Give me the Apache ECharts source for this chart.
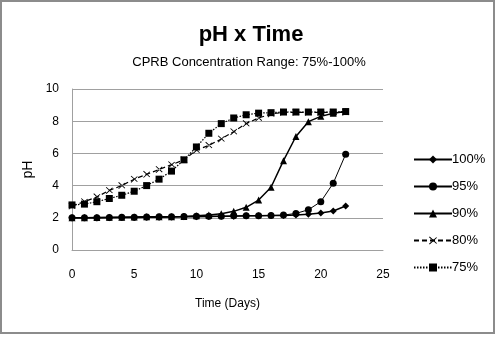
<!DOCTYPE html>
<html>
<head>
<meta charset="utf-8">
<script src="https://cdn.jsdelivr.net/npm/echarts@6/dist/echarts.min.js"></script>
<style>
html, body { margin: 0; padding: 0; background: #fff; }
#chart { width: 500px; height: 339px; }
</style>
</head>
<body>
<div id="chart"></div>
<script>
// days 0..22
var days = [0, 1, 2, 3, 4, 5, 6, 7, 8, 9, 10, 11, 12, 13, 14, 15, 16, 17, 18, 19, 20, 21, 22];
var ph100 = [2.0, 2.0, 2.0, 2.0, 2.02, 2.02, 2.03, 2.04, 2.05, 2.06, 2.07, 2.08, 2.1, 2.1, 2.12, 2.13, 2.14, 2.15, 2.18, 2.22, 2.3, 2.42, 2.73];
var ph95 = [2.0, 2.0, 2.0, 2.02, 2.03, 2.04, 2.05, 2.06, 2.07, 2.08, 2.09, 2.1, 2.1, 2.12, 2.12, 2.13, 2.14, 2.17, 2.27, 2.5, 3.0, 4.15, 5.95];
var ph90 = [2.0, 2.0, 2.02, 2.03, 2.04, 2.05, 2.06, 2.06, 2.07, 2.08, 2.12, 2.18, 2.25, 2.4, 2.65, 3.1, 3.9, 5.55, 7.05, 7.97, 8.3, 8.5, 8.6];
var ph80 = [2.73, 3.0, 3.3, 3.7, 4.0, 4.4, 4.7, 5.0, 5.3, 5.6, 6.2, 6.5, 6.9, 7.35, 7.85, 8.2, 8.45, 8.55, 8.55, 8.55, 8.55, 8.55, 8.55];
var ph75 = [2.8, 2.85, 3.0, 3.2, 3.4, 3.65, 4.0, 4.4, 4.9, 5.6, 6.4, 7.25, 7.85, 8.2, 8.4, 8.5, 8.53, 8.57, 8.57, 8.57, 8.57, 8.57, 8.6];
var seriesNames = ['100%', '95%', '90%', '80%', '75%'];

var xMark = 'path://M0,0 L10,10 M10,0 L0,10 L1,11 L11,1 L10,0 L0,10 Z M0,0 L1,-1 L11,9 L10,10 Z';

function pairs(vals) {
    return days.map(function (d, i) { return [d, vals[i]]; });
}

function mk(name, vals, symbol, size, width, type) {
    return {
        name: name,
        type: 'line',
        data: pairs(vals),
        symbol: symbol,
        symbolSize: size,
        showAllSymbol: true,
        itemStyle: { color: '#000' },
        lineStyle: { color: '#000', width: width, type: type },
        emphasis: { disabled: true },
        animation: false
    };
}

var chart = echarts.init(document.getElementById('chart'));
var option = {
    backgroundColor: '#fff',
    animation: false,
    title: [{
        text: 'pH x Time',
        left: 246,
        top: 19,
        textAlign: 'center',
        textStyle: { fontFamily: 'Liberation Sans, Arial', fontSize: 22, fontWeight: 'bold', color: '#000' }
    }, {
        text: 'CPRB Concentration Range: 75%-100%',
        left: 244,
        top: 51,
        textAlign: 'center',
        textStyle: { fontFamily: 'Liberation Sans, Arial', fontSize: 13, fontWeight: 'normal', color: '#000' }
    }],
    graphic: [{
        type: 'rect',
        shape: { x: 1, y: 1, width: 493, height: 332 },
        style: { fill: 'none', stroke: '#8c8c8c', lineWidth: 2 },
        silent: true
    }],
    legend: {
        orient: 'vertical',
        left: 408,
        top: 148,
        itemWidth: 38,
        itemHeight: 10,
        itemGap: 14,
        data: seriesNames,
        textStyle: { fontFamily: 'Liberation Sans, Arial', fontSize: 13, color: '#000', padding: [0, 0, 0, -5] }
    },
    grid: { left: 72, right: 117, top: 89, bottom: 89 },
    xAxis: {
        type: 'value',
        min: 0,
        max: 25,
        interval: 5,
        name: 'Time (Days)',
        nameLocation: 'middle',
        nameGap: 48,
        nameTextStyle: { fontFamily: 'Liberation Sans, Arial', fontSize: 12, color: '#000' },
        axisLine: { show: true, lineStyle: { color: '#a0a0a0' } },
        axisTick: { show: false },
        splitLine: { show: false },
        axisLabel: { margin: 19, fontFamily: 'Liberation Sans, Arial', fontSize: 12, color: '#000' }
    },
    yAxis: {
        type: 'value',
        min: 0,
        max: 10,
        interval: 2,
        name: 'pH',
        nameLocation: 'middle',
        nameGap: 34,
        nameTextStyle: { fontFamily: 'Liberation Sans, Arial', fontSize: 14, color: '#000' },
        axisLine: { show: true, lineStyle: { color: '#a0a0a0' } },
        axisTick: { show: false },
        splitLine: { show: true, lineStyle: { color: '#a0a0a0' } },
        axisLabel: { margin: 13, fontFamily: 'Liberation Sans, Arial', fontSize: 12, color: '#000' }
    },
    series: [
        mk('100%', ph100, 'diamond', 7, 1.5, 'solid'),
        mk('95%', ph95, 'circle', 7, 1, 'solid'),
        mk('90%', ph90, 'triangle', 7, 1.5, 'solid'),
        mk('80%', ph80, xMark, 7, 1.2, [5, 3]),
        mk('75%', ph75, 'rect', 7, 1.2, [1.5, 1.5])
    ]
};
chart.setOption(option);
</script>
</body>
</html>
